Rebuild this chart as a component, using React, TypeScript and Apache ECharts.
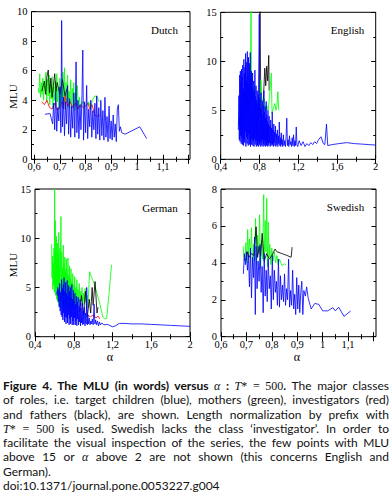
import React, { useEffect, useRef } from "react";
import * as echarts from "echarts";

type P = [number, number];

// ---------- Dutch ----------
const dutchBlue: P[] = [
  [0.642,3.05],[0.662,3.1],[0.672,2.4],[0.676,3.8],[0.680,2.0],[0.684,4.6],[0.688,1.9],[0.692,3.5],[0.696,2.6],[0.700,4.9],
  [0.704,1.8],[0.707,9.4],[0.710,2.2],[0.714,4.2],[0.718,1.6],[0.722,3.9],[0.726,2.4],[0.730,5.0],[0.734,1.7],[0.738,4.1],
  [0.742,1.5],[0.746,3.6],[0.750,2.1],[0.754,4.5],[0.758,1.5],[0.763,6.6],[0.766,1.8],[0.770,4.0],[0.774,1.4],[0.778,3.7],
  [0.782,2.0],[0.786,4.4],[0.789,7.4],[0.792,1.3],[0.796,3.9],[0.800,1.8],[0.804,5.0],[0.808,1.4],[0.812,3.4],[0.816,2.2],
  [0.820,4.0],[0.824,1.5],[0.828,3.3],[0.832,2.0],[0.836,3.8],[0.840,1.4],[0.843,4.3],[0.847,1.7],[0.851,3.5],[0.855,1.3],
  [0.859,4.0],[0.863,1.6],[0.867,3.3],[0.871,1.3],[0.875,4.2],[0.879,1.5],[0.883,2.9],[0.887,1.2],[0.891,3.6],[0.895,1.4],
  [0.899,2.6],[0.903,1.3],[0.907,3.0],[0.911,1.5],[0.915,2.4],[0.919,1.2],[0.923,3.4],[0.927,3.7],[0.931,1.9],[0.935,2.2],
  [0.940,1.8],[0.953,1.7],[1.010,2.2],[1.037,1.4]
];
const dutchGreen: P[] = [
  [0.616,4.8],[0.619,4.5],[0.622,5.8],[0.625,4.2],[0.628,5.2],[0.631,4.4],[0.634,5.5],[0.637,4.0],[0.640,5.0],[0.643,4.6],
  [0.646,5.9],[0.649,3.9],[0.652,5.4],[0.655,4.3],[0.658,5.7],[0.661,3.7],[0.664,5.1],[0.667,4.1],[0.670,5.6],[0.673,3.5],
  [0.676,4.9],[0.679,4.0],[0.682,5.3],[0.685,3.6],[0.688,5.8],[0.691,3.9],[0.694,4.8],[0.697,3.4],[0.700,5.5],[0.703,3.8],
  [0.706,5.0],[0.709,3.5],[0.712,5.9],[0.715,3.7],[0.718,6.2],[0.721,3.4],[0.724,5.2],[0.727,3.9],[0.730,5.7],[0.733,3.5],
  [0.736,4.6],[0.739,3.8],[0.742,5.4],[0.745,3.4],[0.748,4.8],[0.751,3.6],[0.754,5.2],[0.757,3.3],[0.760,4.5],[0.764,3.6],
  [0.768,5.0],[0.772,3.4],[0.776,4.2],[0.780,3.5],[0.790,3.9],[0.800,3.6],[0.812,3.9],[0.820,3.4],[0.826,4.0],[0.836,4.3],
  [0.846,4.2],[0.852,3.9]
];
const dutchRed: P[] = [
  [0.63,3.9],[0.64,3.7],[0.65,4.0],[0.66,3.5],[0.67,3.4],[0.68,3.8],[0.69,3.3],[0.70,3.6],[0.71,3.9],[0.715,3.4],
  [0.72,4.3],[0.73,3.6],[0.74,3.9],[0.75,3.5],[0.76,3.8],[0.77,3.4],[0.78,3.7],[0.79,3.5],[0.80,3.6],[0.81,3.8],
  [0.815,3.4],[0.825,3.7],[0.835,3.0],[0.845,2.9],[0.855,3.0]
];
const dutchBlack: P[] = [
  [0.63,4.6],[0.64,5.3],[0.645,4.4],[0.65,5.6],[0.655,6.05],[0.66,4.5],[0.665,5.5],[0.67,4.2],[0.68,5.8],[0.685,4.6],
  [0.69,5.2],[0.70,4.4],[0.71,5.4],[0.72,4.3],[0.73,4.9]
];

// ---------- English ----------
const englishBlue: P[] = [
  [0.582,3.0],[0.588,6.5],[0.592,2.0],[0.596,8.6],[0.600,1.8],[0.603,9.0],[0.606,2.4],[0.609,7.8],[0.612,1.6],[0.615,9.2],
  [0.618,2.2],[0.621,8.4],[0.624,1.5],[0.627,9.6],[0.630,2.6],[0.633,7.2],[0.636,1.4],[0.639,10.2],[0.642,2.0],[0.645,8.8],
  [0.648,1.7],[0.651,9.4],[0.654,2.8],[0.657,10.8],[0.660,1.3],[0.663,8.0],[0.666,2.3],[0.669,9.9],[0.672,1.6],[0.675,11.0],
  [0.678,2.1],[0.681,8.5],[0.684,1.4],[0.687,10.4],[0.690,2.5],[0.693,7.6],[0.696,1.5],[0.699,9.8],[0.702,1.9],[0.705,10.9],
  [0.708,1.3],[0.711,8.2],[0.714,2.2],[0.717,9.0],[0.720,1.5],[0.723,7.4],[0.726,2.0],[0.729,8.8],[0.732,1.4],[0.735,6.9],
  [0.738,1.8],[0.741,8.0],[0.744,1.3],[0.747,7.1],[0.750,2.1],[0.753,9.1],[0.756,1.5],[0.759,6.4],[0.762,1.9],[0.765,7.5],
  [0.768,1.3],[0.771,6.0],[0.774,2.0],[0.777,7.0],[0.780,1.4],[0.783,5.6],[0.786,1.8],[0.789,6.6],[0.792,1.3],[0.795,8.5],
  [0.798,14.8],[0.801,1.5],[0.804,6.2],[0.807,1.9],[0.810,5.3],[0.813,1.3],[0.816,6.8],[0.819,1.7],[0.822,5.0],[0.825,1.4],
  [0.828,6.0],[0.831,2.0],[0.834,4.6],[0.837,1.3],[0.840,5.5],[0.843,1.6],[0.846,7.0],[0.849,1.4],[0.852,4.8],[0.855,1.9],
  [0.858,5.4],[0.861,1.3],[0.864,4.2],[0.867,1.7],[0.870,5.9],[0.873,1.4],[0.876,4.5],[0.879,1.8],[0.882,3.9],[0.885,1.3],
  [0.888,5.0],[0.891,1.6],[0.894,3.6],[0.897,1.4],[0.900,4.4],[0.904,1.7],[0.908,3.4],[0.912,1.3],[0.916,4.0],[0.920,1.6],
  [0.924,3.2],[0.928,1.4],[0.932,4.8],[0.936,1.5],[0.940,3.0],[0.944,1.3],[0.948,3.6],[0.952,1.7],[0.956,2.8],[0.960,1.4],
  [0.965,3.4],[0.970,1.3],[0.975,2.6],[0.980,1.5],[0.985,3.0],[0.990,1.3],[0.995,2.4],[1.000,1.6],[1.005,3.8],[1.010,1.4],
  [1.015,2.2],[1.020,1.3],[1.025,2.7],[1.030,1.5],[1.035,2.0],[1.040,1.3],[1.047,2.5],[1.054,1.4],[1.061,1.9],[1.068,1.3],
  [1.075,2.3],[1.082,4.2],[1.089,1.4],[1.096,2.0],[1.103,1.3],[1.110,2.4],[1.117,1.5],[1.124,1.8],[1.131,1.3],[1.138,2.2],
  [1.145,1.4],[1.152,2.5],[1.159,1.3],[1.166,1.9],[1.173,1.4],[1.180,3.3],[1.187,1.5],[1.195,1.3],[1.21,1.9],[1.23,1.4],
  [1.25,1.8],[1.27,1.3],[1.29,1.6],[1.31,1.4],[1.33,1.7],[1.35,1.5],[1.37,1.8],[1.39,1.6],[1.41,2.0],[1.435,2.3],
  [1.46,1.6],[1.475,1.5],[1.492,3.6],[1.505,1.4],[1.55,1.5],[1.62,1.6],[1.7,1.7],[1.78,1.6],[1.86,1.55],[1.93,1.5],[2.0,1.45]
];
const englishGreen: P[] = [
  [0.596,2.8],[0.605,4.5],[0.61,3.2],[0.62,6.0],[0.63,3.5],[0.64,7.0],[0.65,4.0],[0.66,8.0],[0.67,4.5],[0.68,7.5],
  [0.69,5.0],[0.70,9.0],[0.705,5.5],[0.713,15.2],[0.72,6.0],[0.75,7.5],[0.77,5.0],[0.79,6.5],[0.805,5.2],[0.815,8.1],
  [0.83,5.0],[0.85,6.2],[0.86,4.8],[0.875,5.5],[0.89,5.0],[0.905,6.5],[0.922,8.8],[0.93,4.7],[0.945,5.3],[0.96,5.7],
  [0.97,5.0],[0.98,5.4],[0.99,6.9],[1.0,5.0]
];
const englishBlack: P[] = [
  [0.586,3.5],[0.595,4.2],[0.60,3.0],[0.61,4.8],[0.62,3.4],[0.79,4.0],[0.806,15.2],[0.815,4.5],[0.84,6.0],[0.855,9.3],
  [0.865,7.5],[0.875,9.5],[0.885,8.0],[0.896,10.6],[0.90,7.0]
];

// ---------- German ----------
const germanBlue: P[] = [
  [0.625,4.6],[0.630,4.2],[0.635,5.0],[0.640,3.6],[0.645,4.8],[0.650,3.0],[0.655,5.4],[0.660,2.6],[0.665,4.5],[0.670,2.2],
  [0.675,5.8],[0.680,2.0],[0.684,4.9],[0.688,1.7],[0.692,5.3],[0.696,2.4],[0.700,6.0],[0.704,1.5],[0.708,4.6],[0.712,2.0],
  [0.716,5.5],[0.720,1.3],[0.724,4.4],[0.728,1.9],[0.732,5.7],[0.736,1.4],[0.740,4.2],[0.744,2.2],[0.748,5.2],[0.752,1.2],
  [0.756,4.6],[0.760,1.8],[0.764,5.0],[0.768,1.3],[0.772,4.0],[0.776,2.0],[0.780,5.3],[0.784,1.2],[0.788,3.8],[0.792,1.6],
  [0.796,4.7],[0.800,1.2],[0.804,3.6],[0.808,1.9],[0.812,4.4],[0.816,1.2],[0.820,3.3],[0.824,1.6],[0.828,4.1],[0.832,1.1],
  [0.836,3.5],[0.840,1.8],[0.845,4.0],[0.850,1.2],[0.855,3.1],[0.860,1.5],[0.865,3.8],[0.870,1.1],[0.875,2.9],[0.880,1.4],
  [0.886,3.4],[0.892,1.2],[0.898,2.6],[0.904,1.3],[0.910,3.0],[0.916,1.1],[0.922,2.4],[0.928,1.3],[0.934,5.0],[0.940,1.2],
  [0.946,2.2],[0.952,1.3],[0.960,1.9],[0.968,1.2],[0.976,1.6],[0.984,1.3],[0.992,1.8],[1.000,1.2],[1.010,3.3],[1.018,1.3],
  [1.026,1.7],[1.034,1.2],[1.045,1.6],[1.055,1.1],[1.065,1.5],[1.075,1.2],[1.09,1.4],[1.11,1.2],[1.15,1.25],[1.2,1.0],
  [1.23,1.1],[1.27,1.35],[1.32,1.35],[1.4,1.3],[1.5,1.3],[1.6,1.25],[1.7,1.2],[1.8,1.15],[1.9,1.1],[2.0,1.05]
];
const germanGreen: P[] = [
  [0.572,9.4],[0.576,6.0],[0.580,8.2],[0.584,4.8],[0.588,7.5],[0.592,5.2],[0.596,9.0],[0.600,4.5],[0.603,15.0],[0.606,5.5],
  [0.609,11.8],[0.612,4.2],[0.615,8.8],[0.618,5.0],[0.621,10.2],[0.624,3.8],[0.627,7.9],[0.630,4.6],[0.633,9.5],[0.636,3.5],
  [0.639,8.4],[0.642,4.8],[0.645,10.6],[0.648,3.2],[0.651,7.2],[0.654,4.4],[0.657,9.0],[0.660,3.0],[0.663,7.8],[0.668,12.2],
  [0.672,3.6],[0.676,8.6],[0.680,2.8],[0.684,7.0],[0.688,4.0],[0.692,9.3],[0.696,3.1],[0.700,7.5],[0.704,3.8],[0.708,8.1],
  [0.712,2.9],[0.716,6.8],[0.720,3.5],[0.724,7.9],[0.728,3.0],[0.732,6.5],[0.736,4.2],[0.740,8.0],[0.744,2.8],[0.748,6.2],
  [0.752,3.4],[0.756,7.2],[0.760,2.7],[0.764,5.9],[0.768,3.9],[0.772,6.9],[0.776,2.6],[0.780,5.6],[0.785,3.3],[0.790,6.4],
  [0.795,2.8],[0.800,5.3],[0.805,3.6],[0.810,6.1],[0.815,2.9],[0.820,5.0],[0.826,3.4],[0.832,5.8],[0.838,3.0],[0.844,4.8],
  [0.850,3.5],[0.857,5.4],[0.864,3.1],[0.871,4.6],[0.878,3.6],[0.885,5.0],[0.893,3.2],[0.901,4.4],[0.909,3.7],[0.918,4.9],
  [0.927,3.5],[0.937,4.2],[0.947,3.0],[0.955,4.9],[0.964,6.6],[0.985,6.0],[1.01,5.4],[1.04,4.4],[1.07,3.3],[1.10,2.0],
  [1.12,1.8],[1.14,1.85],[1.165,4.5],[1.19,7.3]
];
const germanRed: P[] = [
  [0.94,2.3],[0.97,2.0],[1.0,2.2],[1.03,1.9],[1.05,2.1],[1.07,1.8]
];
const germanBlack: P[] = [
  [0.86,2.5],[0.88,4.2],[0.90,2.2],[0.92,4.6],[0.94,2.0],[0.96,3.8],[0.975,2.4],[0.99,5.0],[1.00,3.2],[1.02,5.6],
  [1.04,2.4],[1.05,3.0]
];

// ---------- Swedish ----------
const swedishBlue: P[] = [
  [0.688,3.4],[0.692,4.5],[0.696,3.9],[0.700,4.6],[0.704,3.6],[0.708,4.4],[0.712,2.7],[0.716,4.8],[0.720,2.1],[0.724,4.3],
  [0.728,3.2],[0.732,5.4],[0.735,1.2],[0.738,4.9],[0.742,2.6],[0.746,4.1],[0.750,3.0],[0.754,5.0],[0.758,2.4],[0.762,3.8],
  [0.766,1.3],[0.770,4.5],[0.774,2.2],[0.778,3.6],[0.782,1.9],[0.786,4.2],[0.790,2.6],[0.794,3.3],[0.798,1.5],[0.802,4.4],
  [0.806,2.0],[0.810,3.6],[0.814,2.4],[0.818,3.0],[0.822,1.7],[0.826,4.2],[0.830,1.6],[0.834,3.3],[0.838,2.0],[0.842,2.8],
  [0.846,1.9],[0.850,3.4],[0.854,1.7],[0.858,2.6],[0.862,2.0],[0.866,4.2],[0.870,1.6],[0.874,2.5],[0.878,1.7],[0.882,3.6],
  [0.886,1.5],[0.890,2.3],[0.894,1.2],[0.898,3.2],[0.902,1.5],[0.906,2.8],[0.910,1.3],[0.914,2.4],[0.918,3.0],[0.922,1.2],
  [0.926,2.5],[0.932,2.2],[0.937,2.7],[0.943,2.1],[0.955,1.5],[0.969,1.8],[0.985,1.75],[1.0,1.4],[1.02,1.4],[1.04,1.57],
  [1.05,1.4],[1.063,1.6],[1.084,1.1],[1.11,1.39]
];
const swedishGreen: P[] = [
  [0.687,4.9],[0.690,4.3],[0.694,4.1],[0.698,5.1],[0.702,4.0],[0.705,5.8],[0.708,4.4],[0.712,5.3],[0.716,4.2],[0.720,5.9],
  [0.724,3.8],[0.728,5.0],[0.732,4.1],[0.736,6.4],[0.740,3.9],[0.744,5.5],[0.748,4.5],[0.752,6.6],[0.756,3.7],[0.760,5.2],
  [0.764,4.2],[0.768,7.7],[0.771,4.0],[0.774,6.3],[0.777,4.6],[0.780,7.5],[0.783,3.8],[0.786,6.2],[0.789,4.3],[0.792,5.0],
  [0.796,3.9],[0.800,4.8],[0.805,4.1],[0.810,4.6],[0.815,4.0],[0.820,4.4],[0.825,3.9],[0.830,4.2],[0.840,3.85],[0.848,3.95],
  [0.855,3.9]
];
const swedishBlack: P[] = [
  [0.69,4.15],[0.70,4.2],[0.705,4.6],[0.71,4.3],[0.72,4.5],[0.73,4.4],[0.738,5.95],[0.744,4.3],[0.75,4.9],[0.756,4.4],
  [0.762,5.6],[0.77,4.1],[0.78,4.5],[0.79,4.2],[0.80,4.4],[0.813,4.75],[0.82,4.6],[0.84,4.5],[0.86,4.4],[0.876,4.3],[0.88,4.85]
];

// ---------- axes / ticks ----------
const panelNames = ["Dutch", "English", "German", "Swedish"];
const xRanges: P[] = [[0.59, 1.205], [0.4, 2.0], [0.4, 2.0], [0.6, 1.21]];
const yRanges: P[] = [[0, 10], [0, 15], [0, 15], [0, 8]];
const xLabelsFine = [0.6, 0.7, 0.8, 0.9, 1.0, 1.1];
const xMajorFine = [0.6, 0.7, 0.8, 0.9, 1.0, 1.1, 1.2];
const xMinorFine = [0.65, 0.75, 0.85, 0.95, 1.05, 1.15];
const xMajorWide = [0.4, 0.8, 1.2, 1.6, 2.0];
const xMinorWide = [0.6, 1.0, 1.4, 1.8];
const yMajor10 = [0, 2, 4, 6, 8, 10];
const yMinor10 = [1, 3, 5, 7, 9];
const yMajor15 = [0, 5, 10, 15];
const yMinor15 = [2.5, 7.5, 12.5];
const yMajor8 = [0, 2, 4, 6, 8];
const yMinor8 = [1, 3, 5, 7];

const SERIF = "'Liberation Serif', 'DejaVu Serif', serif";
const BLUE = "#0000ff";
const GREEN = "#00ff00";
const RED = "#ff0000";
const BLACK = "#000000";

function fmt(v: number): string {
  return String(Math.round(v * 100) / 100).replace(".", ",");
}

export default function App() {
  const ref = useRef<HTMLDivElement>(null);

  useEffect(() => {
    if (!ref.current) return;
    const chart = echarts.init(ref.current, undefined, { renderer: "svg" });

    const grids = [
      { left: 31.5, top: 11.7, width: 158.5, height: 147.6 },
      { left: 220.7, top: 12.3, width: 155, height: 147 },
      { left: 35, top: 189, width: 155, height: 147.7 },
      { left: 221, top: 189, width: 155, height: 147.7 },
    ].map((g) => ({
      ...g,
      show: true,
      borderColor: "#000",
      borderWidth: 1,
      backgroundColor: "transparent",
      containLabel: false,
      outerBoundsMode: "none",
    }));

    const xTicks = [
      { major: xMajorFine, minor: xMinorFine, labels: xLabelsFine },
      { major: xMajorWide, minor: xMinorWide, labels: xMajorWide },
      { major: xMajorWide, minor: xMinorWide, labels: xMajorWide },
      { major: xMajorFine, minor: xMinorFine, labels: xLabelsFine },
    ];
    const yTicks = [
      { major: yMajor10, minor: yMinor10 },
      { major: yMajor15, minor: yMinor15 },
      { major: yMajor15, minor: yMinor15 },
      { major: yMajor8, minor: yMinor8 },
    ];

    const xAxis: any[] = [];
    const yAxis: any[] = [];
    for (let p = 0; p < 4; p++) {
      const [xmin, xmax] = xRanges[p];
      const [ymin, ymax] = yRanges[p];
      const mk = (pos: string, vals: number[], len: number, labels: number[] | null, isX: boolean) => ({
        type: "value",
        gridIndex: p,
        position: pos,
        min: isX ? xmin : ymin,
        max: isX ? xmax : ymax,
        axisLine: { show: false },
        splitLine: { show: false },
        axisTick: {
          show: true,
          inside: true,
          length: len,
          customValues: vals,
          lineStyle: { color: "#000", width: 1 },
        },
        axisLabel: labels
          ? {
              show: true,
              customValues: labels,
              formatter: (v: number) => fmt(v),
              margin: isX ? 2 : 4,
              fontFamily: SERIF,
              fontSize: 10.5,
              color: "#000",
            }
          : { show: false },
      });
      xAxis.push(mk("bottom", xTicks[p].major, 4.5, xTicks[p].labels, true));
      xAxis.push(mk("bottom", xTicks[p].minor, 2.5, null, true));
      xAxis.push(mk("top", xTicks[p].major, 4.5, null, true));
      xAxis.push(mk("top", xTicks[p].minor, 2.5, null, true));
      yAxis.push(mk("left", yTicks[p].major, 4.5, yTicks[p].major, false));
      yAxis.push(mk("left", yTicks[p].minor, 2.5, null, false));
      yAxis.push(mk("right", yTicks[p].major, 4.5, null, false));
      yAxis.push(mk("right", yTicks[p].minor, 2.5, null, false));
    }

    const panels: { color: string; data: P[] }[][] = [
      [
        { color: GREEN, data: dutchGreen },
        { color: RED, data: dutchRed },
        { color: BLACK, data: dutchBlack },
        { color: BLUE, data: dutchBlue },
      ],
      [
        { color: BLACK, data: englishBlack },
        { color: GREEN, data: englishGreen },
        { color: BLUE, data: englishBlue },
      ],
      [
        { color: GREEN, data: germanGreen },
        { color: RED, data: germanRed },
        { color: BLACK, data: germanBlack },
        { color: BLUE, data: germanBlue },
      ],
      [
        { color: GREEN, data: swedishGreen },
        { color: BLACK, data: swedishBlack },
        { color: BLUE, data: swedishBlue },
      ],
    ];

    const series: any[] = [];
    panels.forEach((list, p) => {
      list.forEach((s) => {
        series.push({
          type: "line",
          xAxisIndex: p * 4,
          yAxisIndex: p * 4,
          data: s.data,
          showSymbol: false,
          symbol: "none",
          clip: true,
          lineStyle: { color: s.color, width: 0.9, opacity: 0.9 },
          emphasis: { disabled: true },
          z: 2,
        });
      });
    });

    const titlePos: P[] = [[164.5, 29.5], [347.5, 30], [160, 208], [345.5, 206.5]];
    const graphic: any[] = panelNames.map((name, i) => ({
      type: "text",
      x: titlePos[i][0],
      y: titlePos[i][1],
      style: {
        text: name,
        fontFamily: SERIF,
        fontSize: 11,
        fill: "#000",
        align: "center",
        verticalAlign: "middle",
      },
      z: 10,
    }));
    [[13, 96.5], [13, 265]].forEach(([x, y]) => {
      graphic.push({
        type: "text",
        x,
        y,
        rotation: Math.PI / 2,
        style: {
          text: "MLU",
          fontFamily: SERIF,
          fontSize: 11,
          fill: "#000",
          align: "center",
          verticalAlign: "middle",
        },
        z: 10,
      });
    });
    [[110, 357], [297, 357]].forEach(([x, y]) => {
      graphic.push({
        type: "text",
        x,
        y,
        style: {
          text: "α",
          fontFamily: SERIF,
          fontSize: 12,
          fill: "#000",
          align: "center",
          verticalAlign: "middle",
        },
        z: 10,
      });
    });

    chart.setOption({
      animation: false,
      backgroundColor: "#ffffff",
      grid: grids,
      xAxis,
      yAxis,
      series,
      graphic,
    });

    return () => chart.dispose();
  }, []);

  const line: React.CSSProperties = {
    whiteSpace: "nowrap",
    textAlign: "justify",
    textAlignLast: "justify",
    height: 14.3,
    lineHeight: "14.3px",
  };
  const lastLine: React.CSSProperties = { ...line, textAlign: "left", textAlignLast: "left" };
  const serif: React.CSSProperties = { fontFamily: SERIF };

  return (
    <div
      style={{
        position: "fixed",
        left: 0,
        top: 0,
        width: 391,
        height: 492,
        background: "#fff",
        overflow: "hidden",
      }}
    >
      <div ref={ref} style={{ position: "absolute", left: 0, top: 0, width: 391, height: 370 }} />
      <div
        style={{
          position: "absolute",
          left: 3,
          top: 379,
          width: 386,
          fontFamily: "Lato, 'Open Sans', sans-serif",
          fontSize: 12,
          color: "#111",
        }}
      >
        <div style={line}>
          <b>Figure 4. The MLU (in words) versus </b>
          <span style={{ ...serif, fontStyle: "italic" }}>α</span>
          <b> : </b>
          <span style={{ ...serif, fontStyle: "italic" }}>T</span>
          <span style={serif}>*</span>
          <span style={serif}> = 500</span>
          <b>.</b> The major classes
        </div>
        <div style={line}>of roles, i.e. target children (blue), mothers (green), investigators (red)</div>
        <div style={line}>and fathers (black), are shown. Length normalization by prefix with</div>
        <div style={line}>
          <span style={{ ...serif, fontStyle: "italic" }}>T</span>
          <span style={serif}>* = 500</span> is used. Swedish lacks the class ‘investigator’. In order to
        </div>
        <div style={line}>facilitate the visual inspection of the series, the few points with MLU</div>
        <div style={line}>
          above 15 or <span style={{ ...serif, fontStyle: "italic" }}>α</span> above 2 are not shown (this concerns English and
        </div>
        <div style={lastLine}>German).</div>
        <div style={lastLine}>doi:10.1371/journal.pone.0053227.g004</div>
      </div>
    </div>
  );
}
